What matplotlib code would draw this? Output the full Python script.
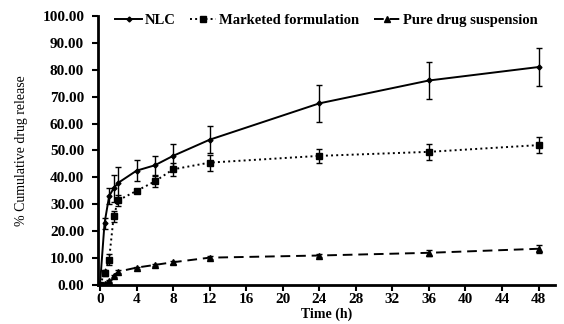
import matplotlib
matplotlib.use("Agg")
import matplotlib.pyplot as plt
from matplotlib.ticker import FormatStrFormatter
from matplotlib.lines import Line2D

time_h = [0, 0.5, 1, 1.5, 2, 4, 6, 8, 12, 24, 36, 48]
nlc = [0, 23, 33, 36, 38, 42.5, 44.5, 48, 54, 67.5, 76, 81]
nlc_err = [0, 2, 3, 5, 6, 4, 3.5, 4.5, 5, 7, 7, 7]
marketed = [0, 4.5, 9.5, 25.5, 31.5, 35, 38.5, 43, 45.5, 48, 49.5, 52]
marketed_err = [0, 1, 2, 2, 2, 0.7, 2, 2.5, 3, 2.5, 3, 3]
pure = [0, 0.5, 1.5, 3.5, 5, 6.5, 7.5, 8.5, 10.2, 11, 12, 13.5]
pure_err = [0, 0.2, 0.3, 0.4, 0.5, 0.4, 0.5, 0.5, 0.5, 0.5, 1.0, 1.5]
xticks = [0, 4, 8, 12, 16, 20, 24, 28, 32, 36, 40, 44, 48]
yticks = [0, 10, 20, 30, 40, 50, 60, 70, 80, 90, 100]

plt.rcParams['font.family'] = ['Liberation Serif', 'DejaVu Serif']

fig = plt.figure(figsize=(5.64, 3.24), dpi=100)
ax = fig.add_axes([0.174, 0.12, 0.81, 0.831])

ekw = dict(ecolor='black', elinewidth=1.0, capsize=2.5, capthick=1.0)
styles = [
    (nlc, nlc_err, '-', 'D', 2.5, 'NLC'),
    (marketed, marketed_err, ':', 's', 5, 'Marketed formulation'),
    (pure, pure_err, (0, (5, 3)), '^', 4.5, 'Pure drug suspension'),
]
handles = []
for vals, errs, ls, mk, ms, lab in styles:
    ax.errorbar(time_h, vals, yerr=errs, color='black', linestyle=ls, linewidth=1.4,
                marker=mk, markersize=ms, **ekw)
    handles.append(Line2D([], [], color='black', linestyle=ls, linewidth=1.4,
                          marker=mk, markersize=ms, label=lab))

ax.set_xlim(-0.2, 49.8)
ax.set_ylim(0, 100)
ax.set_xticks(xticks)
ax.set_yticks(yticks)
ax.yaxis.set_major_formatter(FormatStrFormatter('%.2f'))
for s in ['top', 'right']:
    ax.spines[s].set_visible(False)
for s in ['left', 'bottom']:
    ax.spines[s].set_linewidth(2)
ax.tick_params(axis='both', width=1.5, length=4, labelsize=11)
ax.tick_params(axis='y', pad=6)
ax.tick_params(axis='x', pad=2)
for lbl in ax.get_xticklabels() + ax.get_yticklabels():
    lbl.set_fontweight('bold')

ax.set_xlabel('Time (h)', fontsize=10, fontweight='bold', labelpad=1)
ax.set_ylabel('% Cumulative drug release', fontsize=10, labelpad=10)

ax.legend(handles=handles, loc='upper left', bbox_to_anchor=(0.025, 1.03), ncol=3, frameon=False,
          prop={'weight': 'bold', 'size': 10.5}, handlelength=1.8,
          handletextpad=0.2, columnspacing=1.0, borderaxespad=0)

fig.savefig('out.png', dpi=100)
